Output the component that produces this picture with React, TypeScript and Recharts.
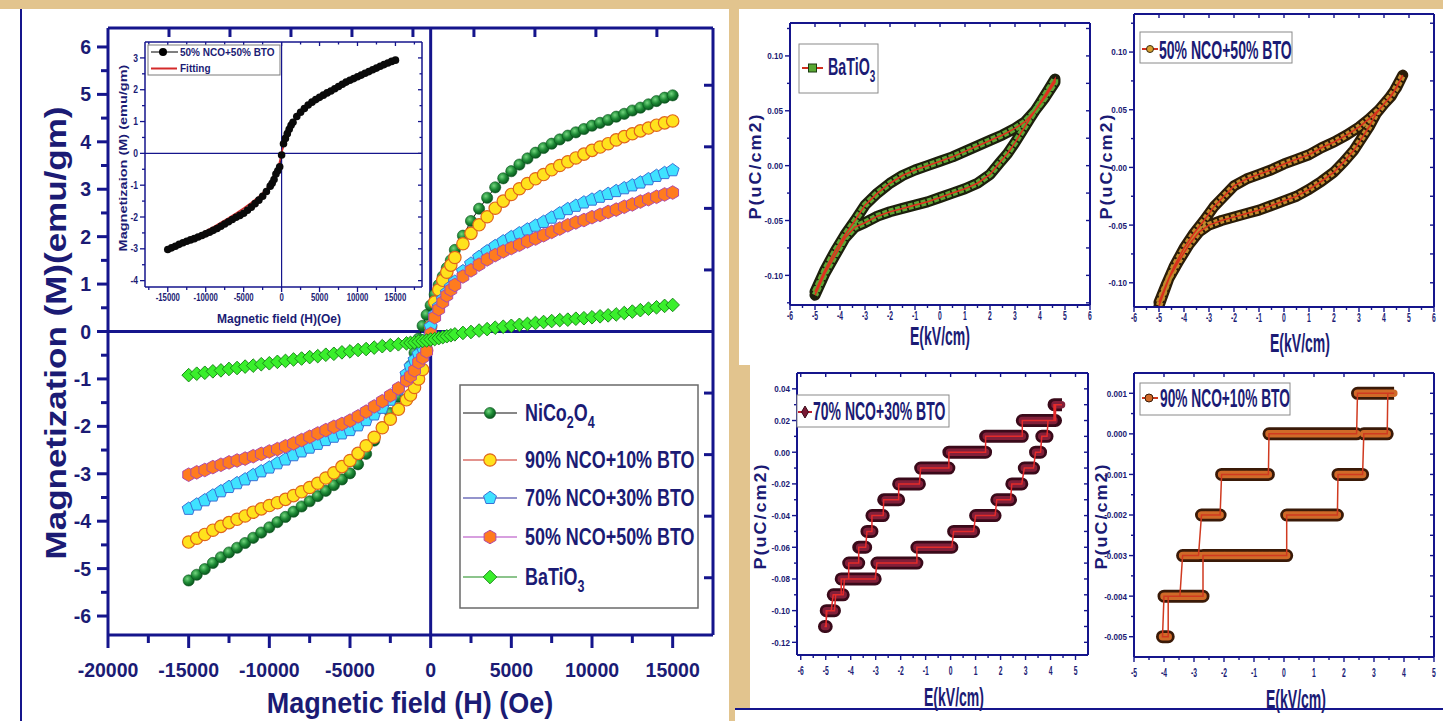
import React from 'react';
import { LineChart, Line, XAxis, YAxis, ReferenceLine } from 'recharts';

const NAVY = '#15158c';
const TXT = '#1b1b74';
const FONT = '"Liberation Sans", Arial, Helvetica, sans-serif';
const BEIGE = '#e2c48e';

// ---------------- Main M-H chart data ----------------
const H_FIELD = [
  -15000, -14500, -14000, -13500, -13000, -12500, -12000, -11500, -11000, -10500, -10000, -9500, -9000, -8500,
  -8000, -7500, -7000, -6500, -6000, -5500, -5000, -4500, -4000, -3500, -3000, -2500, -2000, -1500,
  -1250, -1000, -750, -500, -250, 0, 250, 500, 750, 1000, 1250,
  1500, 2000, 2500, 3000, 3500, 4000, 4500, 5000, 5500, 6000, 6500, 7000, 7500, 8000,
  8500, 9000, 9500, 10000, 10500, 11000, 11500, 12000, 12500, 13000, 13500, 14000, 14500, 15000,
];
const M_NCO = [
  -5.25, -5.13, -5.01, -4.88, -4.76, -4.66, -4.56, -4.46, -4.35, -4.24, -4.13, -4.02, -3.91, -3.8,
  -3.69, -3.58, -3.47, -3.36, -3.24, -3.12, -2.99, -2.8, -2.58, -2.3, -2.02, -1.72, -1.38, -0.95,
  -0.72, -0.45, -0.15, 0.12, 0.35, 0.55, 0.78, 0.98, 1.16, 1.34, 1.5,
  1.72, 2.02, 2.33, 2.59, 2.82, 3.04, 3.23, 3.38, 3.52, 3.65, 3.77, 3.87, 3.96, 4.05,
  4.13, 4.2, 4.27, 4.34, 4.4, 4.46, 4.53, 4.59, 4.66, 4.72, 4.79, 4.86, 4.93, 4.98,
];
const M_90 = [
  -4.44, -4.36, -4.28, -4.19, -4.11, -4.03, -3.96, -3.89, -3.81, -3.74, -3.67, -3.61, -3.54, -3.46,
  -3.38, -3.29, -3.2, -3.09, -2.98, -2.85, -2.72, -2.57, -2.41, -2.23, -2.03, -1.85, -1.64, -1.44,
  -1.34, -1.18, -1.0, -0.8, -0.4, 0.1, 0.62, 0.88, 1.08, 1.25, 1.4,
  1.56, 1.85, 2.07, 2.25, 2.42, 2.6, 2.75, 2.89, 3.01, 3.12, 3.22, 3.31, 3.41, 3.5,
  3.58, 3.66, 3.74, 3.82, 3.89, 3.96, 4.04, 4.11, 4.17, 4.23, 4.29, 4.35, 4.4, 4.44,
];
const M_70 = [
  -3.74, -3.65, -3.56, -3.46, -3.37, -3.28, -3.2, -3.12, -3.03, -2.95, -2.87, -2.78, -2.7, -2.61,
  -2.53, -2.45, -2.37, -2.29, -2.22, -2.15, -2.08, -1.98, -1.87, -1.75, -1.61, -1.44, -1.22, -0.9,
  -0.74, -0.6, -0.48, -0.34, -0.15, 0.1, 0.35, 0.52, 0.68, 0.82, 0.94,
  1.05, 1.27, 1.43, 1.57, 1.69, 1.8, 1.9, 1.99, 2.07, 2.15, 2.23, 2.31, 2.4, 2.49,
  2.58, 2.65, 2.72, 2.78, 2.84, 2.9, 2.96, 3.02, 3.08, 3.14, 3.21, 3.28, 3.34, 3.4,
];
const M_50 = [
  -3.02, -2.97, -2.92, -2.86, -2.81, -2.76, -2.72, -2.68, -2.63, -2.58, -2.53, -2.48, -2.42, -2.36,
  -2.29, -2.22, -2.15, -2.08, -2.01, -1.95, -1.88, -1.79, -1.69, -1.58, -1.47, -1.35, -1.2, -1.03,
  -0.94, -0.82, -0.65, -0.55, -0.42, -0.05, 0.3, 0.47, 0.62, 0.76, 0.88,
  0.98, 1.16, 1.29, 1.41, 1.52, 1.61, 1.69, 1.76, 1.83, 1.9, 1.96, 2.03, 2.1, 2.17,
  2.24, 2.3, 2.35, 2.41, 2.46, 2.52, 2.57, 2.63, 2.68, 2.74, 2.79, 2.84, 2.89, 2.93,
];
const M_BTO = [
  -0.92, -0.89, -0.87, -0.84, -0.82, -0.79, -0.77, -0.74, -0.72, -0.69, -0.67, -0.64, -0.62, -0.59,
  -0.57, -0.54, -0.52, -0.49, -0.47, -0.44, -0.42, -0.39, -0.37, -0.34, -0.31, -0.29, -0.27, -0.25,
  -0.24, -0.23, -0.21, -0.2, -0.19, -0.17, -0.16, -0.14, -0.12, -0.1, -0.08,
  -0.06, -0.03, -0.01, 0.02, 0.05, 0.08, 0.1, 0.12, 0.14, 0.16, 0.18, 0.2, 0.22, 0.24,
  0.25, 0.27, 0.28, 0.3, 0.32, 0.34, 0.36, 0.39, 0.42, 0.45, 0.48, 0.51, 0.54, 0.56,
];

// inset fitting curve
const FIT_H = [
  -15000, -14000, -13000, -12000, -11000, -10000, -9000, -8000, -7000, -6000, -5000, -4000, -3000, -2000, -1000,
  -500, 0, 500, 1000, 2000, 3000, 4000, 5000, 6000, 7000, 8000, 9000, 10000, 11000, 12000, 13000, 14000, 15000,
];
const FIT_M = [
  -3.05, -2.93, -2.81, -2.69, -2.57, -2.44, -2.31, -2.17, -2.03, -1.88, -1.72, -1.55, -1.36, -1.13, -0.78,
  -0.5, 0.0, 0.48, 0.76, 1.12, 1.37, 1.56, 1.72, 1.86, 1.99, 2.12, 2.24, 2.36, 2.47, 2.58, 2.69, 2.8, 2.9,
];

// axis ticks (main)
const MAIN_X_MAJOR = [-20000, -15000, -10000, -5000, 0, 5000, 10000, 15000];
const MAIN_X_MINOR = [-17500, -12500, -7500, -2500, 2500, 7500, 12500];
const MAIN_Y_MAJOR = [-6, -5, -4, -3, -2, -1, 0, 1, 2, 3, 4, 5, 6];
const MAIN_Y_MINOR = [-5.5, -4.5, -3.5, -2.5, -1.5, -0.5, 0.5, 1.5, 2.5, 3.5, 4.5, 5.5];
const MAIN_TOP_TICKS = [1, 2, 3, 4, 5, 6, 7, 8, 9];
const MAIN_RIGHT_TICKS = [-4, -3, -2, -1, 0, 1, 2, 3, 4];
// inset ticks
const INSET_X_MAJOR = [-15000, -10000, -5000, 0, 5000, 10000, 15000];
const INSET_X_MINOR = [-17500, -12500, -7500, -2500, 2500, 7500, 12500, 17500];
const INSET_Y_MAJOR = [-4, -3, -2, -1, 0, 1, 2, 3];
const INSET_Y_MINOR = [-3.5, -2.5, -1.5, -0.5, 0.5, 1.5, 2.5];

// ---------------- P-E loops ----------------
const PE_A_E = [
  -5.0, -4.6, -4.2, -3.8, -3.4, -3.0, -2.5, -2.0, -1.5, -1.0, -0.5, 0.0, 0.5, 1.0, 1.5, 2.0, 2.5, 3.0, 3.4, 3.8, 4.2, 4.6,
  4.6, 4.3, 4.0, 3.6, 3.3, 3.0, 2.7, 2.4, 2.0, 1.5, 1.0, 0.5, 0.0, -0.5, -1.0, -1.5, -2.0, -2.5, -3.0, -3.4, -3.8, -4.2, -4.6, -5.0,
];
const PE_A_P = [
  -0.115, -0.095, -0.078, -0.063, -0.05, -0.036, -0.025, -0.016, -0.009, -0.004, 0.0, 0.004, 0.008, 0.013, 0.018, 0.023, 0.028, 0.034, 0.04, 0.05, 0.062, 0.076,
  0.079, 0.068, 0.057, 0.043, 0.032, 0.021, 0.011, 0.003, -0.008, -0.016, -0.021, -0.025, -0.029, -0.033, -0.036, -0.039, -0.042, -0.046, -0.052, -0.056, -0.066, -0.082, -0.098, -0.118,
];
const PE_B_E = [
  -5.0, -4.7, -4.4, -4.0, -3.6, -3.2, -2.8, -2.4, -2.0, -1.5, -1.0, -0.5, 0.0, 0.5, 1.0, 1.5, 2.0, 2.5, 3.0, 3.4, 3.8, 4.2, 4.5, 4.75,
  4.6, 4.3, 4.0, 3.7, 3.4, 3.1, 2.8, 2.4, 2.0, 1.5, 1.0, 0.5, 0.0, -0.5, -1.0, -1.5, -2.0, -2.5, -3.0, -3.4, -3.8, -4.2, -4.6, -5.0,
];
const PE_B_P = [
  -0.117, -0.101, -0.086, -0.07, -0.057, -0.046, -0.034, -0.025, -0.016, -0.01, -0.006, -0.002, 0.003, 0.007, 0.011, 0.017, 0.022, 0.028, 0.035, 0.042, 0.05, 0.06, 0.069, 0.08,
  0.074, 0.062, 0.055, 0.047, 0.035, 0.025, 0.015, 0.005, -0.004, -0.012, -0.019, -0.025, -0.029, -0.033, -0.037, -0.04, -0.043, -0.046, -0.05, -0.056, -0.067, -0.081, -0.096, -0.12,
];
const PE_C_E = [
  -5.05, -4.98, -4.98, -4.78, -4.7, -4.38, -4.38, -3.02, -2.95, -1.35, -1.35, 0.05, 0.12, 0.92, 1.0, 1.78, 1.85, 2.4,
  2.45, 2.85, 2.95, 3.32, 3.4, 3.6, 3.65, 3.86, 3.9, 4.2, 4.2, 4.46, 4.14, 4.14, 2.87, 2.87, 1.4, 1.4, -0.07,
  -0.07, -1.2, -1.25, -2.08, -2.08, -2.68, -2.7, -3.15, -3.15, -3.35, -3.4, -3.68, -3.68, -4.08, -4.08, -4.25,
  -4.3, -4.6, -4.65, -4.95, -5.0, -5.05,
];
const PE_C_P = [
  -0.11, -0.11, -0.1, -0.1, -0.09, -0.09, -0.08, -0.08, -0.07, -0.07, -0.06, -0.06, -0.05, -0.05, -0.04, -0.04, -0.03, -0.03,
  -0.02, -0.02, -0.01, -0.01, 0, 0, 0.01, 0.01, 0.02, 0.02, 0.03, 0.03, 0.03, 0.02, 0.02, 0.01, 0.01, 0, 0,
  -0.01, -0.01, -0.02, -0.02, -0.03, -0.03, -0.04, -0.04, -0.05, -0.05, -0.06, -0.06, -0.07, -0.07, -0.08, -0.08,
  -0.09, -0.09, -0.1, -0.1, -0.11, -0.11,
];
const PE_D_E = [
  -4.02, -3.86, -3.86, -2.7, -2.7, 0.09, 0.09, 1.78, 1.8, 2.62, 2.66, 3.44, 3.46, 3.67, 2.45,
  2.42, -0.5, -0.52, -2.08, -2.13, -2.75, -2.85, -3.38, -3.47, -4.0, -4.05, -3.98,
];
const PE_D_P = [
  -0.005, -0.005, -0.004, -0.004, -0.003, -0.003, -0.002, -0.002, -0.001, -0.001, 0, 0, 0.001, 0.001, 0.001,
  0, 0, -0.001, -0.001, -0.002, -0.002, -0.003, -0.003, -0.004, -0.004, -0.005, -0.005,
];

const E_MAJOR_6 = [-6, -5, -4, -3, -2, -1, 0, 1, 2, 3, 4, 5, 6];
const E_MINOR_6 = [-5.5, -4.5, -3.5, -2.5, -1.5, -0.5, 0.5, 1.5, 2.5, 3.5, 4.5, 5.5];
const E_MAJOR_C = [-6, -5, -4, -3, -2, -1, 0, 1, 2, 3, 4, 5];
const E_MINOR_C = [-5.5, -4.5, -3.5, -2.5, -1.5, -0.5, 0.5, 1.5, 2.5, 3.5, 4.5];
const E_MAJOR_D = [-5, -4, -3, -2, -1, 0, 1, 2, 3, 4, 5];
const E_MINOR_D = [-4.5, -3.5, -2.5, -1.5, -0.5, 0.5, 1.5, 2.5, 3.5, 4.5];
const P_MAJOR_AB = [-0.1, -0.05, 0, 0.05, 0.1];
const P_MINOR_AB = [-0.125, -0.075, -0.025, 0.025, 0.075, 0.125];
const P_MAJOR_C = [-0.12, -0.1, -0.08, -0.06, -0.04, -0.02, 0, 0.02, 0.04];
const P_MINOR_C = [-0.11, -0.09, -0.07, -0.05, -0.03, -0.01, 0.01, 0.03];
const P_MAJOR_D = [-0.005, -0.004, -0.003, -0.002, -0.001, 0, 0.001];
const P_MINOR_D = [-0.0045, -0.0035, -0.0025, -0.0015, -0.0005, 0.0005];

// ---------------- helpers ----------------
const mainData = H_FIELD.map((h, i) => ({ h, nco: M_NCO[i], n90: M_90[i], n70: M_70[i], n50: M_50[i], bto: M_BTO[i] }));
const fitData = FIT_H.map((h, i) => ({ h, fit: FIT_M[i] }));
const loopRows = (E: number[], P: number[]) => E.map((e, i) => ({ e, p: P[i] }));
const stepRows = (E: number[], P: number[]) => {
  const rows: any[] = [];
  for (let i = 0; i < E.length; i++) {
    rows.push({ e: E[i], p: P[i], run: P[i] });
    if (i < E.length - 1 && P[i + 1] !== P[i]) rows.push({ e: E[i], p: P[i], run: null });
  }
  return rows;
};
const inDomain = (arr: number[], d: number[]) => arr.filter((v) => v >= d[0] - 1e-12 && v <= d[1] + 1e-12);

// Custom tick: draws the outward/inward tick, the label and (optionally) the mirrored tick on the top frame.
function tickFactory(o: any) {
  return function Tick(props: any) {
    const { x, y, payload, index } = props;
    const v = Number(payload && payload.value);
    const isMajor = (o.major as number[]).some((m) => Math.abs(m - v) < 1e-9);
    const len = isMajor ? o.majorLen : o.minorLen;
    let x2 = x;
    let y2 = y;
    if (o.side === 'bottom') y2 = y + len;
    else x2 = x - len;
    let label: any = null;
    if (isMajor && o.fmt) {
      const s = o.fmt(v);
      if (o.side === 'bottom') {
        label = (
          <text transform={`translate(${x},${y + o.gap}) scale(${o.sx},1)`} textAnchor="middle" fontSize={o.fs}
            fontWeight={700} fontFamily={FONT} fill={TXT}>{s}</text>
        );
      } else {
        label = (
          <text transform={`translate(${x - o.gap},${y + o.fs * 0.36}) scale(${o.sx},1)`} textAnchor="end" fontSize={o.fs}
            fontWeight={700} fontFamily={FONT} fill={TXT}>{s}</text>
        );
      }
    }
    let topTick: any = null;
    if (o.topY != null && (isMajor || o.topMinor)) {
      const tl = isMajor ? o.topLen : o.topMinor;
      topTick = <line x1={x} y1={o.topY} x2={x} y2={o.topY + tl} stroke={NAVY} strokeWidth={o.w} />;
    }
    return (
      <g key={`tk-${o.side}-${index}`}>
        {len > 0 && <line x1={x} y1={y} x2={x2} y2={y2} stroke={NAVY} strokeWidth={o.w} />}
        {topTick}
        {label}
      </g>
    );
  };
}

// marker shapes
const poly = (cx: number, cy: number, n: number, r: number, rot: number) =>
  Array.from({ length: n }, (_, k) => {
    const a = ((rot + (360 / n) * k) * Math.PI) / 180;
    return `${cx + r * Math.cos(a)},${cy + r * Math.sin(a)}`;
  }).join(' ');
const Sphere = ({ cx, cy, r = 5.6 }: any) => <circle cx={cx} cy={cy} r={r} fill="url(#gSph)" stroke="#0a541c" strokeWidth={0.6} />;
const YCircle = ({ cx, cy, r = 6.2 }: any) => <circle cx={cx} cy={cy} r={r} fill="#ffe21c" stroke="#e0651c" strokeWidth={1.2} />;
const Penta = ({ cx, cy, r = 6.8 }: any) => <polygon points={poly(cx, cy, 5, r, -90)} fill="#3fe2ff" stroke="#3a70d6" strokeWidth={1} />;
const Hexa = ({ cx, cy, r = 6.8 }: any) => <polygon points={poly(cx, cy, 6, r, -90)} fill="#ff7b1e" stroke="#b04aa8" strokeWidth={1} />;
const Diam = ({ cx, cy }: any) => (
  <polygon points={`${cx},${cy - 6.8} ${cx + 6.8},${cy} ${cx},${cy + 6.8} ${cx - 6.8},${cy}`} fill="#3aef2c" stroke="#1b8a1b" strokeWidth={1} />
);
const BlackDot = ({ cx, cy }: any) => <circle cx={cx} cy={cy} r={3.8} fill="#0a0a0a" />;
const dotFn = (Shape: any) => (p: any) =>
  p.cx == null || p.cy == null ? <g key={`d${p.index}`} /> : <Shape key={`d${p.index}`} cx={p.cx} cy={p.cy} />;

// ---------------- main chart ----------------
function MainChart() {
  const TOP = 28;
  const bt = tickFactory({ side: 'bottom', major: MAIN_X_MAJOR, majorLen: 13, minorLen: 8, w: 3, fmt: (v: number) => String(v), fs: 19.5, sx: 1, gap: 42 });
  const tt = tickFactory({ side: 'bottom', major: MAIN_TOP_TICKS, majorLen: 0, minorLen: 0, w: 3, topY: TOP, topLen: 9 });
  const lt = tickFactory({ side: 'left', major: MAIN_Y_MAJOR, majorLen: 11, minorLen: 7, w: 3, fmt: (v: number) => String(v), fs: 19.5, sx: 1, gap: 17 });
  const rt = tickFactory({ side: 'right', major: MAIN_RIGHT_TICKS, majorLen: 9, minorLen: 9, w: 3 });
  const ax = { stroke: NAVY, strokeWidth: 3 };
  return (
    <div style={{ position: 'absolute', left: 0, top: 0 }}>
      <LineChart width={730} height={721} data={mainData} margin={{ top: TOP, right: 16, bottom: 84, left: 107 }}>
        <XAxis xAxisId="x" dataKey="h" type="number" domain={[-20000, 17500]} allowDataOverflow ticks={[...MAIN_X_MAJOR, ...MAIN_X_MINOR]}
          interval={0} height={1} tickSize={0} tickMargin={0} tickLine={false} axisLine={ax} tick={bt} />
        <XAxis xAxisId="xt" dataKey="h" type="number" domain={[0, 9.92]} allowDataOverflow ticks={MAIN_TOP_TICKS}
          interval={0} height={1} tickSize={0} tickMargin={0} tickLine={false} axisLine={false} tick={tt} />
        <YAxis yAxisId="y" type="number" domain={[-6.4, 6.4]} allowDataOverflow ticks={[...MAIN_Y_MAJOR, ...MAIN_Y_MINOR]}
          interval={0} width={1} tickSize={0} tickMargin={0} tickLine={false} axisLine={ax} tick={lt} />
        <YAxis yAxisId="yr" orientation="right" type="number" domain={[-4.93, 4.93]} allowDataOverflow ticks={MAIN_RIGHT_TICKS}
          interval={0} width={1} tickSize={0} tickMargin={0} tickLine={false} axisLine={ax} tick={rt} />
        <ReferenceLine xAxisId="x" yAxisId="y" y={6.4} stroke={NAVY} strokeWidth={3} />
        <ReferenceLine xAxisId="x" yAxisId="y" x={0} stroke={NAVY} strokeWidth={3} />
        <ReferenceLine xAxisId="x" yAxisId="y" y={0} stroke={NAVY} strokeWidth={3} />
        <Line xAxisId="x" yAxisId="y" dataKey="nco" stroke="#111" strokeWidth={1} dot={dotFn(Sphere)} isAnimationActive={false} />
        <Line xAxisId="x" yAxisId="y" dataKey="n90" stroke="#c8281e" strokeWidth={1} dot={dotFn(YCircle)} isAnimationActive={false} />
        <Line xAxisId="x" yAxisId="y" dataKey="n70" stroke="#2a2a9a" strokeWidth={1} dot={dotFn(Penta)} isAnimationActive={false} />
        <Line xAxisId="x" yAxisId="y" dataKey="n50" stroke="#b040c0" strokeWidth={1} dot={dotFn(Hexa)} isAnimationActive={false} />
        <Line xAxisId="x" yAxisId="y" dataKey="bto" stroke="#1a8a1a" strokeWidth={1} dot={dotFn(Diam)} isAnimationActive={false} />
      </LineChart>
    </div>
  );
}

function InsetChart() {
  const TOP = 12;
  const bt = tickFactory({ side: 'bottom', major: INSET_X_MAJOR, majorLen: 5, minorLen: 3, w: 1.3, fmt: (v: number) => String(v), fs: 10, sx: 0.78, gap: 14, topY: TOP, topLen: 4, topMinor: 2.5 });
  const lt = tickFactory({ side: 'left', major: INSET_Y_MAJOR, majorLen: 5, minorLen: 3, w: 1.3, fmt: (v: number) => String(v), fs: 10, sx: 0.85, gap: 7 });
  const rt = tickFactory({ side: 'right', major: INSET_Y_MAJOR, majorLen: 4, minorLen: 2.5, w: 1.3 });
  const ax = { stroke: NAVY, strokeWidth: 1.5 };
  return (
    <div style={{ position: 'absolute', left: 100, top: 30 }}>
      <LineChart width={330} height={300} data={mainData} margin={{ top: TOP, right: 7, bottom: 42, left: 44 }}>
        <XAxis xAxisId="x" dataKey="h" type="number" domain={[-18000, 18500]} allowDataOverflow ticks={[...INSET_X_MAJOR, ...INSET_X_MINOR]}
          interval={0} height={1} tickSize={0} tickMargin={0} tickLine={false} axisLine={ax} tick={bt} />
        <YAxis yAxisId="y" type="number" domain={[-4.2, 3.5]} allowDataOverflow ticks={[...INSET_Y_MAJOR, ...INSET_Y_MINOR]}
          interval={0} width={1} tickSize={0} tickMargin={0} tickLine={false} axisLine={ax} tick={lt} />
        <YAxis yAxisId="yr" orientation="right" type="number" domain={[-4.2, 3.5]} allowDataOverflow ticks={[...INSET_Y_MAJOR, ...INSET_Y_MINOR]}
          interval={0} width={1} tickSize={0} tickMargin={0} tickLine={false} axisLine={ax} tick={rt} />
        <ReferenceLine xAxisId="x" yAxisId="y" y={3.5} stroke={NAVY} strokeWidth={1.5} />
        <ReferenceLine xAxisId="x" yAxisId="y" x={0} stroke={NAVY} strokeWidth={1.2} />
        <ReferenceLine xAxisId="x" yAxisId="y" y={0} stroke={NAVY} strokeWidth={1.2} />
        <Line xAxisId="x" yAxisId="y" dataKey="n50" stroke="#000" strokeWidth={1} dot={dotFn(BlackDot)} isAnimationActive={false} />
        <Line xAxisId="x" yAxisId="y" data={fitData} dataKey="fit" stroke="#d42a2a" strokeWidth={1.6} dot={false} isAnimationActive={false} />
      </LineChart>
    </div>
  );
}

// ---------------- P-E charts ----------------
function PEChart(props: any) {
  const { left, top, width, height, margin, xDomain, yDomain, xMajor, xMinor, yMajor, yMinor, yDigits, rows, mode, col, xGap } = props;
  const xTicks = inDomain([...xMajor, ...xMinor], xDomain);
  const yTicks = inDomain([...yMajor, ...yMinor], yDomain);
  const bt = tickFactory({ side: 'bottom', major: xMajor, majorLen: 5, minorLen: 3, w: 1.4, fmt: (v: number) => String(v), fs: 13, sx: 0.52, gap: xGap, topY: margin.top, topLen: 4 });
  const lt = tickFactory({ side: 'left', major: yMajor, majorLen: 5, minorLen: 3, w: 1.4, fmt: (v: number) => v.toFixed(yDigits), fs: 9.5, sx: 0.85, gap: 7 });
  const rt = tickFactory({ side: 'right', major: yMajor, majorLen: 4, minorLen: 4, w: 1.4 });
  const ax = { stroke: NAVY, strokeWidth: 2 };
  const axes = [
    <XAxis key="xb" xAxisId="x" dataKey="e" type="number" domain={xDomain} allowDataOverflow ticks={xTicks} interval={0} height={1}
      tickSize={0} tickMargin={0} tickLine={false} axisLine={ax} tick={bt} />,
    <YAxis key="yl" yAxisId="y" type="number" domain={yDomain} allowDataOverflow ticks={yTicks} interval={0} width={1}
      tickSize={0} tickMargin={0} tickLine={false} axisLine={ax} tick={lt} />,
    <YAxis key="yr" yAxisId="yr" orientation="right" type="number" domain={yDomain} allowDataOverflow ticks={yTicks} interval={0} width={1}
      tickSize={0} tickMargin={0} tickLine={false} axisLine={ax} tick={rt} />,
    <ReferenceLine key="tf" xAxisId="x" yAxisId="y" y={yDomain[1]} stroke={NAVY} strokeWidth={2} />,
  ];
  const lines =
    mode === 'loop'
      ? [
          <Line key="o" xAxisId="x" yAxisId="y" dataKey="p" stroke={col.outline} strokeWidth={11} strokeLinejoin="round" strokeLinecap="round" dot={false} isAnimationActive={false} />,
          <Line key="i" xAxisId="x" yAxisId="y" dataKey="p" stroke={col.inner} strokeWidth={6.5} strokeDasharray={col.dash} strokeLinejoin="round" dot={false} isAnimationActive={false} />,
          <Line key="r" xAxisId="x" yAxisId="y" dataKey="p" stroke={col.line} strokeWidth={1.6} dot={false} isAnimationActive={false} />,
        ]
      : [
          <Line key="o" xAxisId="x" yAxisId="y" dataKey="run" stroke={col.outline} strokeWidth={13} strokeLinecap="round" dot={false} isAnimationActive={false} />,
          <Line key="i" xAxisId="x" yAxisId="y" dataKey="run" stroke={col.inner} strokeWidth={7.5} strokeDasharray={col.dash} strokeLinecap="round" dot={false} isAnimationActive={false} />,
          <Line key="r" xAxisId="x" yAxisId="y" dataKey="p" stroke={col.line} strokeWidth={1.5} dot={false} isAnimationActive={false} />,
        ];
  return (
    <div style={{ position: 'absolute', left, top }}>
      <LineChart width={width} height={height} data={rows} margin={margin}>
        {axes}
        {lines}
      </LineChart>
    </div>
  );
}

// ---------------- text overlay ----------------
function Overlay() {
  const tb = { fontFamily: FONT, fontWeight: 700, fill: TXT } as any;
  const legRows = [
    { y: 413, line: '#111', shape: <Sphere cx={490} cy={413} />, label: 'nco' },
    { y: 460, line: '#c8281e', shape: <YCircle cx={490} cy={460} />, label: '90% NCO+10% BTO' },
    { y: 498, line: '#2a2a9a', shape: <Penta cx={490} cy={498} />, label: '70% NCO+30% BTO' },
    { y: 537, line: '#b040c0', shape: <Hexa cx={490} cy={537} />, label: '50% NCO+50% BTO' },
    { y: 577, line: '#1a8a1a', shape: <Diam cx={490} cy={577} />, label: 'bto' },
  ];
  const peTitle = (cx: number, base: number) => (
    <text transform={`translate(${cx},${base}) scale(0.54,1)`} textAnchor="middle" fontSize={26} {...tb}>E(kV/cm)</text>
  );
  const pTitle = (cx: number, cy: number) => (
    <text transform={`translate(${cx},${cy}) rotate(-90) scale(1,0.95)`} textAnchor="middle" dominantBaseline="central"
      fontSize={18} letterSpacing={2} {...tb}>P(uC/cm2)</text>
  );
  return (
    <svg width={1443} height={721} style={{ position: 'absolute', left: 0, top: 0, pointerEvents: 'none' }}>
      {/* main titles */}
      <text transform="translate(56,333) rotate(-90) scale(1,0.82)" textAnchor="middle" dominantBaseline="central" fontSize={35} {...tb}>
        Magnetization (M)(emu/gm)
      </text>
      <text transform="translate(410,713) scale(0.9,1)" textAnchor="middle" fontSize={30} {...tb}>Magnetic field (H) (Oe)</text>
      {/* main legend */}
      <rect x={460} y={385} width={238} height={223} fill="#fff" stroke="#6a6a6a" strokeWidth={1.5} />
      {legRows.map((r, i) => (
        <g key={`lg${i}`}>
          <line x1={463} x2={517} y1={r.y} y2={r.y} stroke={r.line} strokeWidth={1.2} />
          {r.shape}
          <text transform={`translate(525,${r.y + 8}) scale(0.78,1)`} fontSize={23} {...tb}>
            {r.label === 'nco' ? (
              <>
                NiCo<tspan fontSize={16} dy={7}>2</tspan>
                <tspan dy={-7}>O</tspan>
                <tspan fontSize={16} dy={7}>4</tspan>
              </>
            ) : r.label === 'bto' ? (
              <>
                BaTiO<tspan fontSize={16} dy={7}>3</tspan>
              </>
            ) : (
              r.label
            )}
          </text>
        </g>
      ))}
      {/* inset titles & legend */}
      <text transform="translate(123,158) rotate(-90) scale(1,0.8)" textAnchor="middle" dominantBaseline="central" fontSize={14.5} {...tb}>
        Magnetizaion (M) (emu/gm)
      </text>
      <text x={279} y={323} textAnchor="middle" fontSize={12} {...tb}>Magnetic field (H)(Oe)</text>
      <rect x={148} y={45} width={132} height={30} fill="#fff" stroke="#7a7a7a" strokeWidth={1} />
      <line x1={151} x2={178} y1={52} y2={52} stroke="#000" strokeWidth={1} />
      <circle cx={163} cy={52} r={4} fill="#000" />
      <text x={180} y={55.5} fontSize={10} {...tb}>50% NCO+50% BTO</text>
      <line x1={151} x2={177} y1={68.5} y2={68.5} stroke="#d42a2a" strokeWidth={2} />
      <text x={180} y={72} fontSize={10} {...tb}>Fitting</text>

      {/* P-E titles */}
      {peTitle(940, 345)}
      {pTitle(755, 166)}
      {peTitle(1300, 352)}
      {pTitle(1106, 166)}
      {peTitle(954, 706)}
      {pTitle(760, 516)}
      {peTitle(1296, 708)}
      {pTitle(1101, 516)}

      {/* P-E legends */}
      <rect x={799} y={44} width={79} height={49} fill="#fff" stroke="#8a8a8a" strokeWidth={1} />
      <line x1={802} x2={823} y1={68} y2={68} stroke="#d03020" strokeWidth={2} />
      <rect x={808.5} y={64} width={8} height={8} fill="#5aa832" stroke="#1a3a10" strokeWidth={1} />
      <text transform="translate(828,75) scale(0.62,1)" fontSize={23} {...tb}>
        BaTiO<tspan fontSize={16} dy={7}>3</tspan>
      </text>

      <rect x={1140} y={32} width={152} height={31} fill="#fff" stroke="#8a8a8a" strokeWidth={1} />
      <line x1={1142} x2={1158} y1={49} y2={49} stroke="#d03020" strokeWidth={2} />
      <circle cx={1150} cy={49} r={3.5} fill="#d8a030" stroke="#3a2a10" strokeWidth={1} />
      <text transform="translate(1159,59) scale(0.54,1)" fontSize={26} {...tb}>50% NCO+50% BTO</text>

      <rect x={797} y={395} width={152} height={32} fill="#fff" stroke="#8a8a8a" strokeWidth={1} />
      <line x1={798} x2={812} y1={412} y2={412} stroke="#c02030" strokeWidth={2} />
      <polygon points="805,406 808.5,412 805,418 801.5,412" fill="#7a1a35" stroke="#3a0a18" strokeWidth={1} />
      <text transform="translate(813,420) scale(0.56,1)" fontSize={25} {...tb}>70% NCO+30% BTO</text>

      <rect x={1140} y={383} width={150} height={32} fill="#fff" stroke="#8a8a8a" strokeWidth={1} />
      <line x1={1142} x2={1158} y1={398} y2={398} stroke="#d03a20" strokeWidth={2} />
      <circle cx={1149} cy={398} r={4} fill="#d06a28" stroke="#3a1a08" strokeWidth={1} />
      <text transform="translate(1160,407) scale(0.55,1)" fontSize={25} {...tb}>90% NCO+10% BTO</text>
    </svg>
  );
}

export default function App() {
  return (
    <div style={{ position: 'fixed', left: 0, top: 0, width: 1443, height: 721, background: BEIGE, overflow: 'hidden', fontFamily: FONT }}>
      <svg width={0} height={0} style={{ position: 'absolute' }}>
        <defs>
          <radialGradient id="gSph" cx="38%" cy="35%" r="65%">
            <stop offset="0%" stopColor="#74d67f" />
            <stop offset="55%" stopColor="#1d8a35" />
            <stop offset="100%" stopColor="#0a561e" />
          </radialGradient>
        </defs>
      </svg>
      <div style={{ position: 'absolute', left: 0, top: 9, width: 729, height: 712, background: '#fff' }} />
      <div style={{ position: 'absolute', left: 20, top: 9, width: 2, height: 712, background: NAVY }} />
      <div style={{ position: 'absolute', left: 739, top: 9, width: 704, height: 356, background: '#fff' }} />
      <div style={{ position: 'absolute', left: 750, top: 365, width: 693, height: 345, background: '#fff' }} />
      <div style={{ position: 'absolute', left: 735, top: 708, width: 708, height: 2, background: NAVY }} />
      <div style={{ position: 'absolute', left: 735, top: 710, width: 708, height: 11, background: '#fff' }} />
      <MainChart />
      <InsetChart />
      <PEChart left={739} top={9} width={360} height={356} margin={{ top: 14, right: 8, bottom: 59, left: 50 }}
        xDomain={[-6, 6]} yDomain={[-0.127, 0.13]} xMajor={E_MAJOR_6} xMinor={E_MINOR_6} yMajor={P_MAJOR_AB} yMinor={P_MINOR_AB}
        yDigits={2} rows={loopRows(PE_A_E, PE_A_P)} mode="loop" xGap={15}
        col={{ outline: '#1c1f0c', inner: '#5ea534', line: '#e0301e', dash: '5 1.6' }} />
      <PEChart left={1092} top={0} width={351} height={365} margin={{ top: 14, right: 8, bottom: 57, left: 41 }}
        xDomain={[-6, 6]} yDomain={[-0.121, 0.133]} xMajor={E_MAJOR_6} xMinor={E_MINOR_6} yMajor={P_MAJOR_AB} yMinor={P_MINOR_AB}
        yDigits={2} rows={loopRows(PE_B_E, PE_B_P)} mode="loop" xGap={15}
        col={{ outline: '#2a1c08', inner: '#c08a2c', line: '#d8301c', dash: '4 2' }} />
      <PEChart left={750} top={365} width={345} height={356} margin={{ top: 8, right: 6, bottom: 65, left: 46 }}
        xDomain={[-6.15, 5.5]} yDomain={[-0.128, 0.05]} xMajor={E_MAJOR_C} xMinor={E_MINOR_C} yMajor={P_MAJOR_C} yMinor={P_MINOR_C}
        yDigits={2} rows={stepRows(PE_C_E, PE_C_P)} mode="step" xGap={20}
        col={{ outline: '#3a0a1a', inner: '#82203a', line: '#e42a2a', dash: '6 1.5' }} />
      <PEChart left={1095} top={365} width={348} height={356} margin={{ top: 8, right: 8, bottom: 63, left: 38 }}
        xDomain={[-5, 5]} yDomain={[-0.0055, 0.0015]} xMajor={E_MAJOR_D} xMinor={E_MINOR_D} yMajor={P_MAJOR_D} yMinor={P_MINOR_D}
        yDigits={3} rows={stepRows(PE_D_E, PE_D_P)} mode="step" xGap={20}
        col={{ outline: '#3a1a08', inner: '#d06a28', line: '#d03a20', dash: '6 1.5' }} />
      <Overlay />
    </div>
  );
}
